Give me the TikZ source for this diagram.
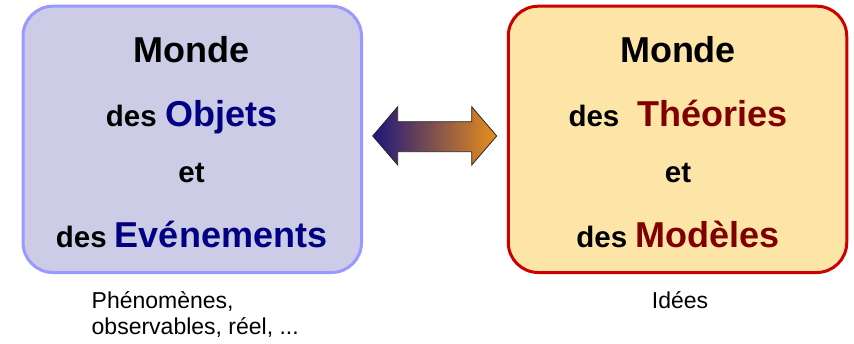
\documentclass[tikz,border=0pt]{standalone}
\usepackage{fontspec}
\setmainfont{Liberation Sans}

\definecolor{objfill}{HTML}{CCCCE7}
\definecolor{objline}{HTML}{9999FF}
\definecolor{theofill}{HTML}{FDE5A8}
\definecolor{theoline}{HTML}{CC0000}
\definecolor{navyword}{HTML}{000080}
\definecolor{maroonword}{HTML}{800000}
\definecolor{arrowleft}{RGB}{28,22,125}
\definecolor{arrowmid}{RGB}{172,100,105}
\definecolor{arrowright}{RGB}{232,142,28}

\newcommand\smallword{\fontsize{29.5}{35}\selectfont\bfseries}
\newcommand\bigword{\fontsize{36}{42}\selectfont\bfseries}

\tikzset{
  worldbox/.style={draw, line width=3pt, rounded corners=30pt,
    minimum width=338.5pt, minimum height=266.3pt, inner sep=0pt},
  boxline/.style={anchor=base, inner sep=0pt, font=\smallword},
  caption/.style={inner sep=0pt, font=\fontsize{23}{27}\selectfont},
}

\begin{document}
\begin{tikzpicture}[x=1pt, y=-1pt]
\useasboundingbox (0,0) rectangle (854,343);

% the two worlds
\node[worldbox, draw=objline, fill=objfill] (objets) at (192.25,139.35) {};
\node[worldbox, draw=theoline, fill=theofill] (theories) at (677.5,139.35) {};

% left world
\node[boxline] (o1) at (191.5,62) {\bigword Monde};
\node[boxline] (o2) at (191.5,126.5) {des {\bigword\color{navyword}Objets}};
\node[boxline] (o3) at (191.5,182) {et};
\node[boxline] (o4) at (191.5,247) {des {\bigword\color{navyword}Evénements}};

% right world
\node[boxline] (t1) at (678,62) {\bigword Monde};
\node[boxline] (t2) at (678,126.5) {des\hspace{18pt}{\bigword\color{maroonword}Théories}};
\node[boxline] (t3) at (678,182) {et};
\node[boxline] (t4) at (678,247) {des {\bigword\color{maroonword}Modèles}};

% double arrow between the worlds
\draw[draw=black!85, line width=0.8pt, line join=miter,
      left color=arrowleft, middle color=arrowmid, right color=arrowright]
  (372.7,136) -- (397.7,106.7) -- (397.7,121.7) -- (471.7,121.7)
  -- (471.7,106.7) -- (496.7,136) -- (471.7,165) -- (471.7,151.7)
  -- (397.7,151.7) -- (397.7,165) -- cycle;

% captions
\node[caption, anchor=base west] (c1) at (91.5,308) {Phénomènes,};
\node[caption, anchor=base west] (c2) at (91.5,334) {observables, réel, ...};
\node[caption, anchor=base] (c3) at (680,308) {Idées};
\end{tikzpicture}
\end{document}
